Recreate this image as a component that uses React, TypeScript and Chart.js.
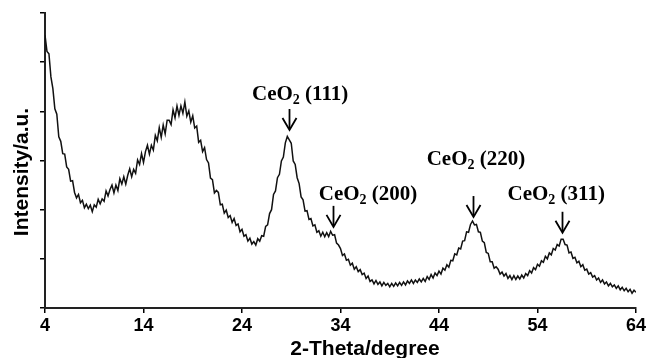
import React, { useEffect, useRef } from "react";
import { Chart, registerables } from "chart.js";

Chart.register(...registerables);

// 2-Theta grid: 4° to 64° in 0.2° steps (301 readings)
const THETA_START = 4;
const THETA_STEP = 0.2;

const INTENSITY = [
  5.55, 5.22, 5.17, 4.7, 4.46, 4.05, 3.94, 3.48, 3.39, 3.14,
  3.13, 2.87, 2.82, 2.58, 2.59, 2.35, 2.24, 2.31, 2.14, 2.19,
  2.04, 2.11, 2.02, 2.09, 1.96, 2.1, 2.05, 2.21, 2.12, 2.22,
  2.17, 2.38, 2.28, 2.41, 2.5, 2.34, 2.5, 2.39, 2.63, 2.52,
  2.67, 2.52, 2.7, 2.83, 2.67, 2.82, 2.74, 3.01, 2.92, 3.14,
  2.96, 3.18, 3.31, 3.13, 3.31, 3.21, 3.51, 3.4, 3.67, 3.47,
  3.72, 3.54, 3.82, 3.82, 3.73, 4.03, 3.87, 4.11, 3.92, 4.11,
  3.96, 4.19, 3.9, 4.01, 3.78, 3.91, 3.66, 3.7, 3.37, 3.41,
  3.18, 3.26, 3.02, 2.95, 2.64, 2.61, 2.34, 2.39, 2.35, 2.1,
  2.11, 1.93, 1.99, 1.84, 1.88, 1.74, 1.82, 1.68, 1.71, 1.55,
  1.6, 1.46, 1.49, 1.36, 1.42, 1.3, 1.35, 1.28, 1.41, 1.36,
  1.47, 1.46, 1.66, 1.69, 1.92, 2.0, 2.31, 2.38, 2.65, 2.72,
  2.99, 3.07, 3.36, 3.49, 3.42, 3.35, 2.99, 2.92, 2.65, 2.53,
  2.26, 2.2, 1.97, 1.98, 1.8, 1.82, 1.67, 1.69, 1.54, 1.57,
  1.46, 1.54, 1.45, 1.53, 1.45, 1.56, 1.48, 1.49, 1.32, 1.28,
  1.21, 1.07, 1.1, 0.97, 0.99, 0.87, 0.91, 0.79, 0.84, 0.74,
  0.78, 0.68, 0.71, 0.6, 0.65, 0.54, 0.57, 0.49, 0.56, 0.48,
  0.53, 0.45, 0.52, 0.46, 0.5, 0.43, 0.5, 0.44, 0.51, 0.45,
  0.52, 0.46, 0.53, 0.47, 0.55, 0.5, 0.57, 0.5, 0.57, 0.52,
  0.59, 0.53, 0.6, 0.54, 0.64, 0.58, 0.68, 0.61, 0.71, 0.66,
  0.75, 0.69, 0.81, 0.77, 0.88, 0.83, 0.97, 0.96, 1.1, 1.08,
  1.22, 1.2, 1.36, 1.37, 1.55, 1.54, 1.7, 1.77, 1.69, 1.7,
  1.55, 1.54, 1.36, 1.33, 1.13, 1.11, 0.94, 0.94, 0.81, 0.84,
  0.79, 0.69, 0.73, 0.65, 0.7, 0.6, 0.66, 0.58, 0.66, 0.58,
  0.65, 0.59, 0.67, 0.61, 0.7, 0.66, 0.76, 0.71, 0.82, 0.78,
  0.89, 0.85, 0.96, 0.93, 1.05, 1.0, 1.12, 1.08, 1.21, 1.18,
  1.29, 1.26, 1.4, 1.4, 1.29, 1.28, 1.12, 1.14, 1.01, 1.03,
  0.92, 0.95, 0.84, 0.88, 0.77, 0.79, 0.69, 0.72, 0.63, 0.66,
  0.57, 0.61, 0.52, 0.57, 0.49, 0.53, 0.45, 0.5, 0.43, 0.47,
  0.4, 0.45, 0.37, 0.42, 0.35, 0.4, 0.33, 0.38, 0.3, 0.36,
  0.32,
];

const TWO_THETA = INTENSITY.map((_, i) => +(THETA_START + i * THETA_STEP).toFixed(1));

// Axis ranges / ticks
const X_MIN = 4;
const X_MAX = 64;
const X_STEP = 10;
const Y_MIN = 0;
const Y_MAX = 6;
const Y_STEP = 1;

const X_TITLE = "2-Theta/degree";
const Y_TITLE = "Intensity/a.u.";

// Peak annotations
const PEAK_FORMULA = "CeO";
const PEAK_SUB = "2";
const PEAK_PLANES = ["(111)", "(200)", "(220)", "(311)"];
const PEAK_THETA = [28.8, 33.2, 47.45, 56.5]; // arrow position
const PEAK_TIP = [3.62, 1.65, 1.85, 1.53]; // arrow tip intensity
const LABEL_THETA = [29.9, 36.8, 47.75, 55.9]; // label centre
const LABEL_Y = [4.23, 2.2, 2.9, 2.2]; // label baseline intensity

const annotationPlugin = {
  id: "xrdAnnotations",
  afterDraw(chart: any) {
    const { ctx, scales } = chart;
    const x = scales.x;
    const y = scales.y;
    ctx.save();
    ctx.strokeStyle = "#000";
    ctx.fillStyle = "#000";
    ctx.lineWidth = 1.8;
    ctx.lineCap = "butt";
    PEAK_THETA.forEach((t, i) => {
      const ax = Math.round(x.getPixelForValue(t)) + 0.5;
      const tip = y.getPixelForValue(PEAK_TIP[i]);
      ctx.beginPath();
      ctx.moveTo(ax, tip - 21);
      ctx.lineTo(ax, tip - 1);
      ctx.stroke();
      ctx.beginPath();
      ctx.moveTo(ax - 7, tip - 12);
      ctx.lineTo(ax, tip);
      ctx.lineTo(ax + 7, tip - 12);
      ctx.stroke();

      // label
      const mainFont = "bold 21px 'Liberation Serif', 'Times New Roman', serif";
      const subFont = "bold 14px 'Liberation Serif', 'Times New Roman', serif";
      ctx.font = mainFont;
      const w1 = ctx.measureText(PEAK_FORMULA).width;
      const rest = " " + PEAK_PLANES[i];
      const w3 = ctx.measureText(rest).width;
      ctx.font = subFont;
      const w2 = ctx.measureText(PEAK_SUB).width;
      const total = w1 + w2 + w3;
      const cx = x.getPixelForValue(LABEL_THETA[i]);
      const by = y.getPixelForValue(LABEL_Y[i]);
      let sx = cx - total / 2;
      ctx.textBaseline = "alphabetic";
      ctx.textAlign = "left";
      ctx.font = mainFont;
      ctx.fillText(PEAK_FORMULA, sx, by);
      sx += w1;
      ctx.font = subFont;
      ctx.fillText(PEAK_SUB, sx, by + 4);
      sx += w2;
      ctx.font = mainFont;
      ctx.fillText(rest, sx, by);
    });

    // axis titles
    const titleFont = "bold 21px 'Liberation Sans', Arial, sans-serif";
    ctx.font = titleFont;
    ctx.textAlign = "center";
    ctx.textBaseline = "alphabetic";
    ctx.fillText(X_TITLE, 365, 355);
    ctx.save();
    ctx.translate(28, 172);
    ctx.rotate(-Math.PI / 2);
    ctx.fillText(Y_TITLE, 0, 0);
    ctx.restore();
    ctx.restore();
  },
};

export default function App() {
  const canvasRef = useRef<HTMLCanvasElement | null>(null);

  useEffect(() => {
    const canvas = canvasRef.current;
    if (!canvas) return;
    const chart = new Chart(canvas, {
      type: "line",
      data: {
        datasets: [
          {
            data: TWO_THETA.map((t, i) => ({ x: t, y: INTENSITY[i] })),
            borderColor: "#111",
            borderWidth: 1.5,
            pointRadius: 0,
            tension: 0,
            fill: false,
          },
        ],
      },
      options: {
        animation: false,
        responsive: false,
        maintainAspectRatio: false,
        layout: { padding: { top: 13, right: 15, left: 0, bottom: 0 } },
        plugins: {
          legend: { display: false },
          tooltip: { enabled: false },
          title: { display: false },
        },
        scales: {
          x: {
            type: "linear",
            min: X_MIN,
            max: X_MAX,
            afterFit: (s: any) => {
              s.height = 50;
            },
            ticks: {
              stepSize: X_STEP,
              color: "#000",
              padding: 2,
              font: { family: "'Liberation Sans', Arial, sans-serif", size: 18, weight: "bold" },
            },
            grid: {
              drawOnChartArea: false,
              drawTicks: true,
              tickLength: 5,
              color: "#000",
              lineWidth: 1.5,
            },
            border: { display: true, color: "#222", width: 2 },
          },
          y: {
            type: "linear",
            min: Y_MIN,
            max: Y_MAX,
            afterFit: (s: any) => {
              s.width = 45;
            },
            ticks: {
              stepSize: Y_STEP,
              display: true,
              callback: () => "",
              padding: 0,
            },
            grid: {
              drawOnChartArea: false,
              drawTicks: true,
              tickLength: 5,
              color: "#000",
              lineWidth: 1.5,
            },
            border: { display: true, color: "#222", width: 2 },
          },
        },
      },
      plugins: [annotationPlugin],
    });
    return () => chart.destroy();
  }, []);

  return (
    <div style={{ position: "fixed", left: 0, top: 0, width: 651, height: 358, background: "#fff" }}>
      <canvas ref={canvasRef} width={651} height={358} style={{ display: "block" }} />
    </div>
  );
}
